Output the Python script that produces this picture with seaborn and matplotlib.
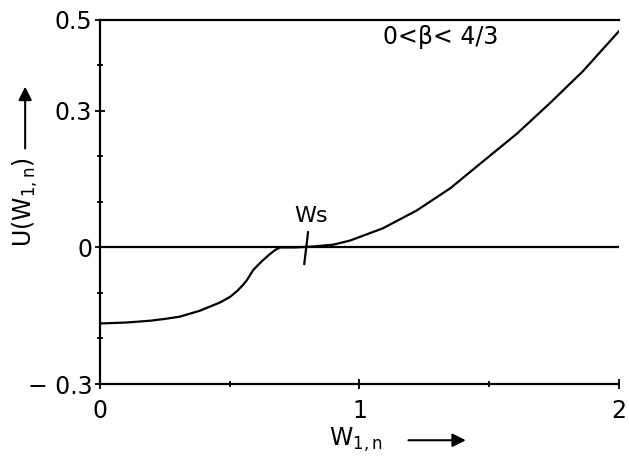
import numpy as np
import pandas as pd
import matplotlib
matplotlib.use("Agg")
import matplotlib.pyplot as plt
from matplotlib.patches import FancyArrowPatch
import seaborn as sns

# curve
w_vals = [0.0, 0.1, 0.193, 0.25, 0.308, 0.385, 0.462, 0.5, 0.528, 0.55, 0.566,
          0.59, 0.61, 0.628, 0.65, 0.667, 0.68, 0.694, 0.75, 0.82, 0.898,
          0.963, 1.09, 1.22, 1.35, 1.476, 1.607, 1.734, 1.861, 2.0]
u_vals = [-0.167, -0.165, -0.161, -0.157, -0.152, -0.139, -0.121, -0.109,
          -0.096, -0.083, -0.072, -0.05, -0.038, -0.028, -0.017, -0.009,
          -0.004, 0.0, 0.0, 0.002, 0.006, 0.015, 0.042, 0.081, 0.13, 0.189,
          0.25, 0.317, 0.387, 0.475]
x_ticks = [0, 1, 2]
y_ticks = [-0.3, 0, 0.3, 0.5]
y_ticklabels = ["\u2212 0.3", "0", "0.3", "0.5"]
ws_pos = 0.795

df = pd.DataFrame({"W": w_vals, "U": u_vals})

sns.set_style("ticks")
plt.rcParams["font.family"] = ["DejaVu Sans"]
plt.rcParams["text.color"] = "black"
plt.rcParams["mathtext.default"] = "regular"

fig = plt.figure(figsize=(6.29, 4.61), dpi=100)
ax = fig.add_axes([0.159, 0.167, 0.825, 0.790])

sns.lineplot(data=df, x="W", y="U", color="black", linewidth=1.6, ax=ax)
ax.axhline(0, color="black", linewidth=1.6)

ax.set_xlim(0, 2)
ax.set_ylim(-0.3, 0.5)
ax.set_xticks(x_ticks)
ax.set_xticklabels([str(t) for t in x_ticks])
ax.set_yticks(y_ticks)
ax.set_yticklabels(y_ticklabels)
ax.set_xticks([0.5, 1.5], minor=True)
ax.set_yticks([-0.2, -0.1, 0.1, 0.2, 0.4], minor=True)
ax.tick_params(axis="both", which="both", direction="inout", width=1.3,
               labelsize=17, colors="black")
ax.tick_params(axis="both", which="major", length=7)
ax.tick_params(axis="both", which="minor", length=5)
ax.tick_params(axis="x", pad=7)
ax.tick_params(axis="y", pad=2)
ax.set_xlabel("")
ax.set_ylabel("")

for side in ["left", "bottom", "top"]:
    ax.spines[side].set_linewidth(1.6)
    ax.spines[side].set_color("black")
ax.spines["right"].set_visible(False)

# Ws marker
ax.plot([ws_pos + 0.007, ws_pos - 0.008], [0.034, -0.037], color="black", linewidth=1.6)
ax.text(ws_pos + 0.02, 0.068, "Ws", fontsize=16, ha="center", va="center")

ax.text(1.09, 0.463, "0<\u03b2< 4/3", fontsize=17, ha="left", va="center")

# axis labels with arrows
fig.text(0.040, 0.562, r"U(W$_{1,n}$)", rotation=90, fontsize=17,
         ha="center", va="center")
fig.patches.append(FancyArrowPatch(
    (0.040, 0.672), (0.040, 0.818), transform=fig.transFigure,
    arrowstyle="-|>", mutation_scale=20, color="black", linewidth=1.5))
fig.text(0.565, 0.045, r"W$_{1,n}$", fontsize=17, ha="center", va="center")
fig.patches.append(FancyArrowPatch(
    (0.645, 0.045), (0.745, 0.045), transform=fig.transFigure,
    arrowstyle="-|>", mutation_scale=20, color="black", linewidth=1.5))

fig.savefig("out.png", dpi=100)
